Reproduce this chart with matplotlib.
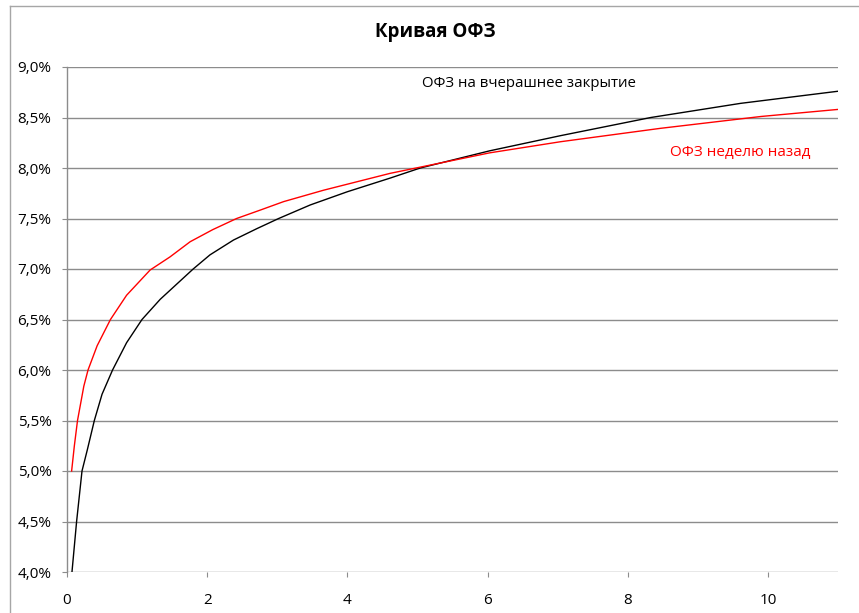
import matplotlib
matplotlib.use("Agg")
import matplotlib.pyplot as plt
from matplotlib.lines import Line2D
from matplotlib.ticker import FuncFormatter, MultipleLocator

plt.rcParams['font.family'] = ['Open Sans', 'DejaVu Sans']

# Data (maturity in years, yield in %)
yesterday_x = [0.071, 0.137, 0.214, 0.29, 0.39, 0.50, 0.65, 0.85, 1.07, 1.33, 1.80, 2.04,
               2.376, 2.71, 3.02, 3.47, 4.0, 4.61, 5.04, 6.03, 7.04, 8.33, 9.61, 11.0]
yesterday_y = [4.00, 4.50, 5.00, 5.21, 5.50, 5.76, 6.00, 6.27, 6.50, 6.70, 7.00, 7.14,
               7.287, 7.40, 7.50, 7.634, 7.765, 7.90, 8.00, 8.17, 8.32, 8.50, 8.64, 8.76]

week_ago_x = [0.066, 0.105, 0.15, 0.24, 0.30, 0.43, 0.62, 0.85, 1.186, 1.47, 1.757, 2.08,
              2.42, 2.76, 3.09, 3.66, 4.61, 6.03, 7.04, 8.47, 9.9, 11.0]
week_ago_y = [5.00, 5.25, 5.50, 5.84, 6.00, 6.24, 6.50, 6.74, 6.99, 7.12, 7.27, 7.39,
              7.50, 7.584, 7.667, 7.78, 7.947, 8.15, 8.26, 8.393, 8.51, 8.58]

title = "Кривая ОФЗ"
label_yesterday = "ОФЗ на вчерашнее закрытие"
label_week = "ОФЗ неделю назад"

W, H = 859, 613
fig = plt.figure(figsize=(W / 100, H / 100), dpi=100)
ax = fig.add_axes([67 / W, 1 - 572 / H, (838 - 67) / W, (572 - 67) / H])

ax.plot(yesterday_x, yesterday_y, color='black', lw=1.0)
ax.plot(week_ago_x, week_ago_y, color='#ff0000', lw=1.0)

ax.set_xlim(0, 11)
ax.set_ylim(4.0, 9.0)
ax.xaxis.set_major_locator(MultipleLocator(2))
ax.yaxis.set_major_locator(MultipleLocator(0.5))
ax.yaxis.set_major_formatter(FuncFormatter(lambda v, p: f"{v:.1f}%".replace('.', ',')))
ax.grid(axis='y', color='#8c8c8c', lw=1.0)
ax.set_axisbelow(True)

for s in ['top', 'right', 'bottom']:
    ax.spines[s].set_visible(False)
ax.spines['left'].set_color('#8c8c8c')
ax.spines['left'].set_linewidth(1.0)

ax.tick_params(axis='y', length=3.6, width=0.8, color='#8c8c8c', pad=7.5, labelsize=11)
ax.tick_params(axis='x', length=3.6, width=0.8, color='#8c8c8c', pad=11.5, labelsize=11)

ax.text(5.07, 8.84, label_yesterday, color='black', fontsize=10.8, va='center', ha='left')
ax.text(8.61, 8.158, label_week, color='#ff0000', fontsize=11, va='center', ha='left')

fig.text(435 / W, 1 - 32 / H, title, fontsize=13.5, fontweight='bold', ha='center', va='center')

# outer chart border
fig.add_artist(Line2D([10 / W, 10 / W], [0, 1 - 6 / H], transform=fig.transFigure, color='#a6a6a6', lw=1.0))
fig.add_artist(Line2D([10 / W, 1], [1 - 6 / H, 1 - 6 / H], transform=fig.transFigure, color='#a6a6a6', lw=1.0))

fig.savefig("out.png", dpi=100)
